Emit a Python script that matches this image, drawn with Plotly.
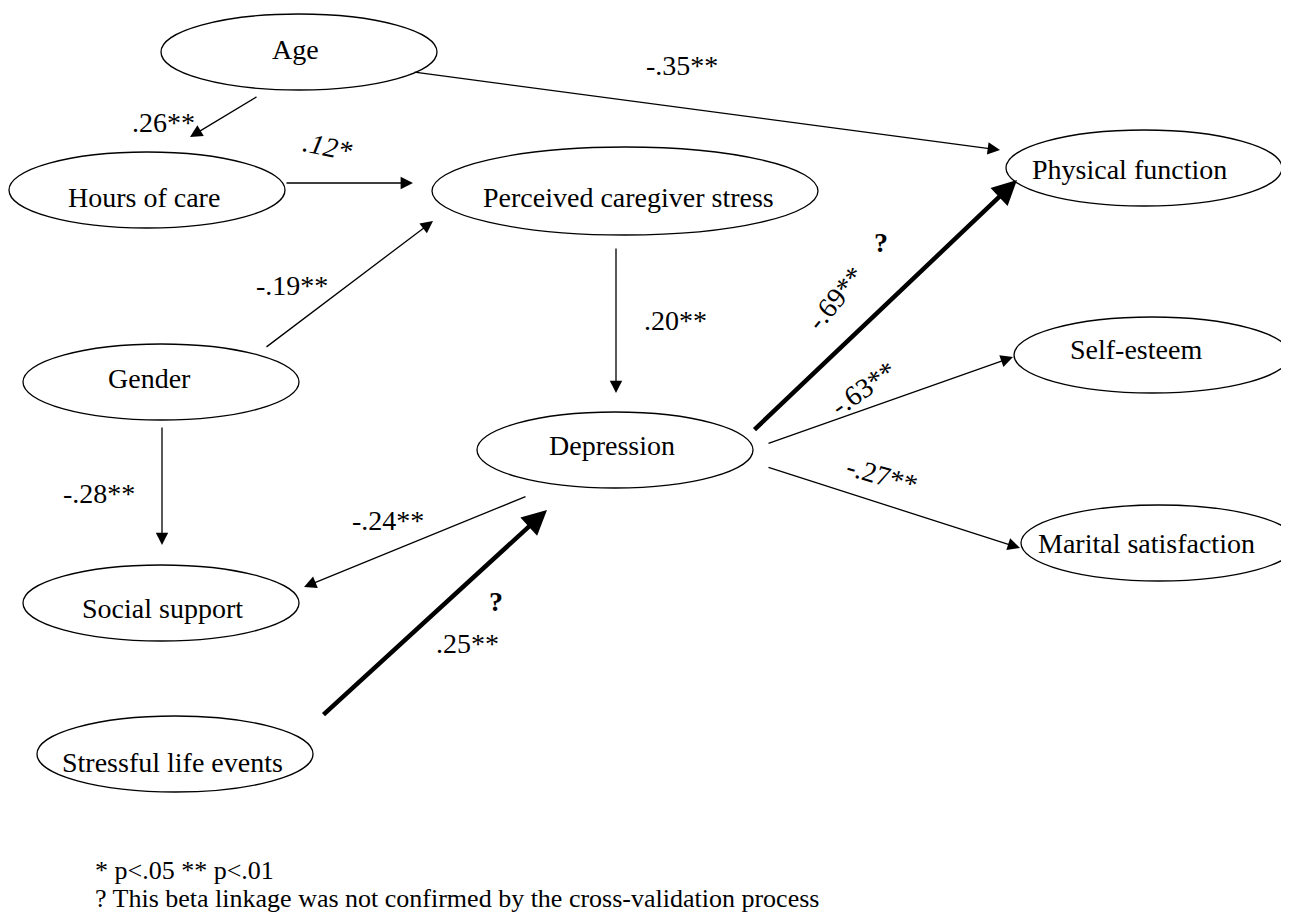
import plotly.graph_objects as go

# ---------------- data ----------------
node_names = ["Age", "Hours of care", "Perceived caregiver stress", "Physical function",
              "Self-esteem", "Marital satisfaction", "Gender", "Depression",
              "Social support", "Stressful life events"]

path_from = ["Age", "Age", "Hours of care", "Gender", "Perceived caregiver stress", "Gender",
             "Depression", "Stressful life events", "Depression", "Depression", "Depression"]
path_to = ["Hours of care", "Physical function", "Perceived caregiver stress",
           "Perceived caregiver stress", "Depression", "Social support", "Social support",
           "Depression", "Physical function", "Self-esteem", "Marital satisfaction"]
path_coef = [".26**", "-.35**", ".12*", "-.19**", ".20**", "-.28**", "-.24**", ".25**",
             "-.69**", "-.63**", "-.27**"]
path_unconfirmed = [False, False, False, False, False, False, False, True, True, False, False]

footnotes = ["* p<.05 ** p<.01",
             "? This beta linkage was not confirmed by the cross-validation process"]

# ---------------- layout (pixel geometry) ----------------
W, H = 1289, 916
OFF = 8  # page body margin, so data coordinates equal page pixels
FONT = "Liberation Serif"

node_geom = {  # cx, cy, rx, ry
    "Age": (299, 52, 138, 38),
    "Hours of care": (147, 190, 138, 38),
    "Perceived caregiver stress": (625, 191, 193, 44),
    "Physical function": (1144, 168, 138, 38),
    "Self-esteem": (1152, 355, 138, 38),
    "Marital satisfaction": (1159, 543, 138, 38),
    "Gender": (161, 382, 138, 38),
    "Depression": (615, 450, 138, 38),
    "Social support": (161, 603, 138, 38),
    "Stressful life events": (175, 754, 138, 38),
}
node_text_pos = {
    "Age": (295, 49),
    "Hours of care": (144, 197),
    "Perceived caregiver stress": (628, 197),
    "Physical function": (1129, 169),
    "Self-esteem": (1136, 349),
    "Marital satisfaction": (1146, 543),
    "Gender": (149, 378),
    "Depression": (612, 445),
    "Social support": (162, 608),
    "Stressful life events": (172, 762),
}
# tail (x, y) -> tip (x, y) for each path, same order as path lists
arrow_geom = [
    ((258, 96), (190, 137)),
    ((413, 72), (1000, 150)),
    ((285, 183), (413, 183)),
    ((265, 348), (433, 221)),
    ((616, 247), (616, 393)),
    ((162, 426), (162, 545)),
    ((527, 496), (304, 587)),
    ((322, 716), (547, 510)),
    ((753, 431), (1017, 180)),
    ((767, 444), (1013, 357)),
    ((767, 467), (1020, 548)),
]
# label x, y, angle, italic
label_geom = [
    (163, 122, 0, False),
    (682, 65, 0, False),
    (327, 146, 12, True),
    (292, 285, 0, False),
    (675, 320, 0, False),
    (99, 493, 0, False),
    (388, 520, 0, False),
    (467, 643, 0, False),
    (835, 298, -50, False),
    (863, 388, -35, False),
    (882, 475, 16, False),
]
question_pos = {7: (496, 601), 8: (881, 242)}

fig = go.Figure()
fig.add_trace(go.Scatter(x=[OFF, W], y=[OFF, H], mode="markers",
                         marker=dict(opacity=0), hoverinfo="skip", showlegend=False))

shapes = []
annotations = []
for name in node_names:
    cx, cy, rx, ry = node_geom[name]
    shapes.append(dict(type="circle", xref="x", yref="y",
                       x0=cx - rx, x1=cx + rx, y0=cy - ry, y1=cy + ry,
                       line=dict(color="black", width=1.3), fillcolor="rgba(0,0,0,0)"))
    tx, ty = node_text_pos[name]
    annotations.append(dict(x=tx, y=ty, xref="x", yref="y", text=name, showarrow=False,
                            xanchor="center", yanchor="middle",
                            font=dict(family=FONT, size=28, color="black")))

for i, (src, dst) in enumerate(zip(path_from, path_to)):
    (ax, ay), (tx, ty) = arrow_geom[i]
    thick = path_unconfirmed[i]
    annotations.append(dict(x=tx, y=ty, ax=ax, ay=ay, xref="x", yref="y",
                            axref="x", ayref="y", text="", showarrow=True,
                            arrowhead=2, arrowcolor="black",
                            arrowwidth=4.5 if thick else 1.3,
                            arrowsize=1.1 if thick else 1.9,
                            standoff=0, startstandoff=0))
    lx, ly, ang, ital = label_geom[i]
    txt = "<i>" + path_coef[i] + "</i>" if ital else path_coef[i]
    annotations.append(dict(x=lx, y=ly, xref="x", yref="y", text=txt, showarrow=False,
                            xanchor="center", yanchor="middle", textangle=ang,
                            font=dict(family=FONT, size=28, color="black")))
    if thick and i in question_pos:
        qx, qy = question_pos[i]
        annotations.append(dict(x=qx, y=qy, xref="x", yref="y", text="<b>?</b>",
                                showarrow=False, xanchor="center", yanchor="middle",
                                font=dict(family=FONT, size=28, color="black")))

for j, line in enumerate(footnotes):
    annotations.append(dict(x=93, y=870 + 28 * j, xref="x", yref="y", text=line,
                            showarrow=False, xanchor="left", yanchor="middle",
                            font=dict(family=FONT, size=26, color="black")))

fig.update_layout(
    width=W, height=H,
    margin=dict(l=0, r=0, t=0, b=0),
    paper_bgcolor="white", plot_bgcolor="white",
    xaxis=dict(range=[OFF, W + OFF], visible=False, fixedrange=True),
    yaxis=dict(range=[H + OFF, OFF], visible=False, fixedrange=True),
    shapes=shapes, annotations=annotations, showlegend=False,
)

fig.write_html("out.html")
